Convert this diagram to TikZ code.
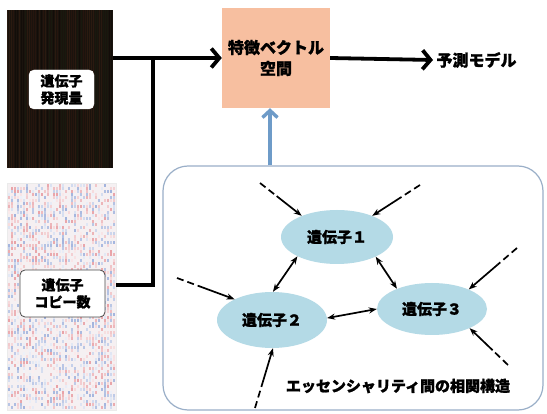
\documentclass[tikz,border=0pt]{standalone}
\usepackage{fontspec}
\setmainfont{Noto Sans CJK JP}[BoldFeatures={FakeBold=1.2}]
\usetikzlibrary{arrows.meta,calc,shapes.geometric}
\definecolor{peach}{HTML}{F7BFA0}
\definecolor{ellfill}{HTML}{B4DAE6}
\definecolor{blarrow}{HTML}{6E9BC8}
\definecolor{netborder}{HTML}{9AAFC8}
\definecolor{hmdark}{HTML}{1A130D}
\definecolor{hA}{HTML}{26150E}
\definecolor{hB}{HTML}{18190E}
\definecolor{hC}{HTML}{120D09}
\definecolor{hD}{HTML}{2A1A10}
\definecolor{hmred}{HTML}{D0404A}
\definecolor{hmblue}{HTML}{3F63B8}
\definecolor{hmbg}{HTML}{F5F0F2}
\tikzset{
  bigtext/.style={font=\bfseries\fontsize{16}{21}\selectfont, align=center},
  lbl/.style={draw=#1, rounded corners=5pt, fill=white, inner sep=0pt, align=center,
     font=\bfseries\fontsize{14}{17}\selectfont},
  gene/.style={ellipse, fill=ellfill, inner sep=0pt, font=\bfseries\fontsize{15}{18}\selectfont},
  thickarrow/.style={line width=3.8pt, -{Straight Barb[length=8pt,width=19pt,line width=3.8pt]}},
  blueup/.style={blarrow, line width=3.4pt, -{Straight Barb[length=7pt,width=15pt,line width=3.4pt]}},
  link/.style={line width=1.7pt, -{Stealth[length=8pt,width=6pt]}},
  bilink/.style={line width=1.7pt, {Stealth[length=8pt,width=6pt]}-{Stealth[length=8pt,width=6pt]}},
  tail/.style={line width=1.7pt, dash pattern=on 7pt off 4pt},
}
\begin{document}
\begin{tikzpicture}[x=1pt,y=-1pt]
\useasboundingbox[fill=white] (0,0) rectangle (547,414);
\pgfmathsetseed{11}
% heatmap 1 (expression)
\node[fill=hmdark, minimum width=106pt, minimum height=158pt, inner sep=0pt] (h1) at (60,89) {};
\foreach \k in {0,...,52}{
  \pgfmathrandominteger{\c}{0}{3}
  \ifcase\c \def\cc{hA}\or \def\cc{hB}\or \def\cc{hC}\or \def\cc{hD}\fi
  \fill[\cc] (7+\k*2,10) rectangle ++(1.3,158);
}
\node[lbl=white, minimum width=65pt, minimum height=39pt] (l1) at (61.5,89.5) {遺伝子\\発現量};
% heatmap 2 (copy number)
\node[fill=hmbg, draw=black!8, minimum width=109pt, minimum height=227pt, inner sep=0pt] (h2) at (61.5,296.5) {};
\foreach \i in {0,...,35}{
  \foreach \j in {0,...,74}{
    \pgfmathrandominteger{\c}{0}{9}
    \pgfmathrandominteger{\k}{8}{48}
    \ifnum\c<3 \fill[hmred!\k!white] (8+\i*3,184+\j*3) rectangle ++(2.4,3);\fi
    \ifnum\c>2 \ifnum\c<6 \fill[hmblue!\k!white] (8+\i*3,184+\j*3) rectangle ++(2.4,3);\fi\fi
  }
}
\node[lbl=black!70, line width=0.8pt, minimum width=85pt, minimum height=47pt] (l2) at (62.5,293.5) {遺伝子\\コピー数};
% feature space
\node[fill=peach, minimum width=108pt, minimum height=100pt, inner sep=0pt, bigtext] (fv) at (276,58) {特徴ベクトル\\空間};
\node[bigtext, anchor=west] (pm) at (433,60) {予測モデル};
% main arrows
\coordinate (j) at (153,60);
\coordinate (j2) at (153,285);
\draw[thickarrow] (h1.east |- fv.west) -- (fv.west);
\draw[line width=3.8pt] (h2.east |- j2) -- (j2) -- ([yshift=1.9pt]j);
\draw[thickarrow] (fv.east) -- (pm.west);
% network box
\node[draw=netborder, line width=1.2pt, rounded corners=25pt, minimum width=380pt, minimum height=244pt, inner sep=0pt] (net) at (353,288) {};
\draw[blueup] ([xshift=-6pt]net.north -| fv.south) -- ([xshift=-6pt]fv.south);
% genes
\node[gene, minimum width=112pt, minimum height=54pt] (e1) at (337,237) {遺伝子１};
\node[gene, minimum width=110pt, minimum height=56pt] (e2) at (272,320) {遺伝子２};
\node[gene, minimum width=110pt, minimum height=52pt] (e3) at (432,309) {遺伝子３};
\draw[bilink] (e1.206) -- (e2.88);
\draw[bilink] (e1.333) -- (e3.150);
\draw[bilink] (e2.2) -- (e3.180);
% incoming dashed-tail arrows
\coordinate (s1) at (260,183);
\coordinate (s2) at (420,185);
\coordinate (s3) at (177,278);
\coordinate (s4) at (255,408);
\coordinate (s5) at (517,248);
\coordinate (s6) at (508,365);
\coordinate (m1) at ($(s1)!0.4!(e1.149)$);
\coordinate (m2) at ($(s2)!0.4!(e1.31)$);
\coordinate (m3) at ($(s3)!0.4!(e2.151)$);
\coordinate (m4) at ($(s4)!0.4!(e2.272)$);
\coordinate (m5) at ($(s5)!0.4!(e3.28)$);
\coordinate (m6) at ($(s6)!0.4!(e3.333)$);
\draw[tail] (s1) -- (m1); \draw[link] (m1) -- (e1.149);
\draw[tail] (s2) -- (m2); \draw[link] (m2) -- (e1.31);
\draw[tail] (s3) -- (m3); \draw[link] (m3) -- (e2.151);
\draw[tail] (s4) -- (m4); \draw[link] (m4) -- (e2.272);
\draw[tail] (s5) -- (m5); \draw[link] (m5) -- (e3.28);
\draw[tail] (s6) -- (m6); \draw[link] (m6) -- (e3.333);
\node[font=\bfseries\fontsize{15}{18}\selectfont] (cap) at (398,386) {エッセンシャリティ間の相関構造};
\end{tikzpicture}
\end{document}
